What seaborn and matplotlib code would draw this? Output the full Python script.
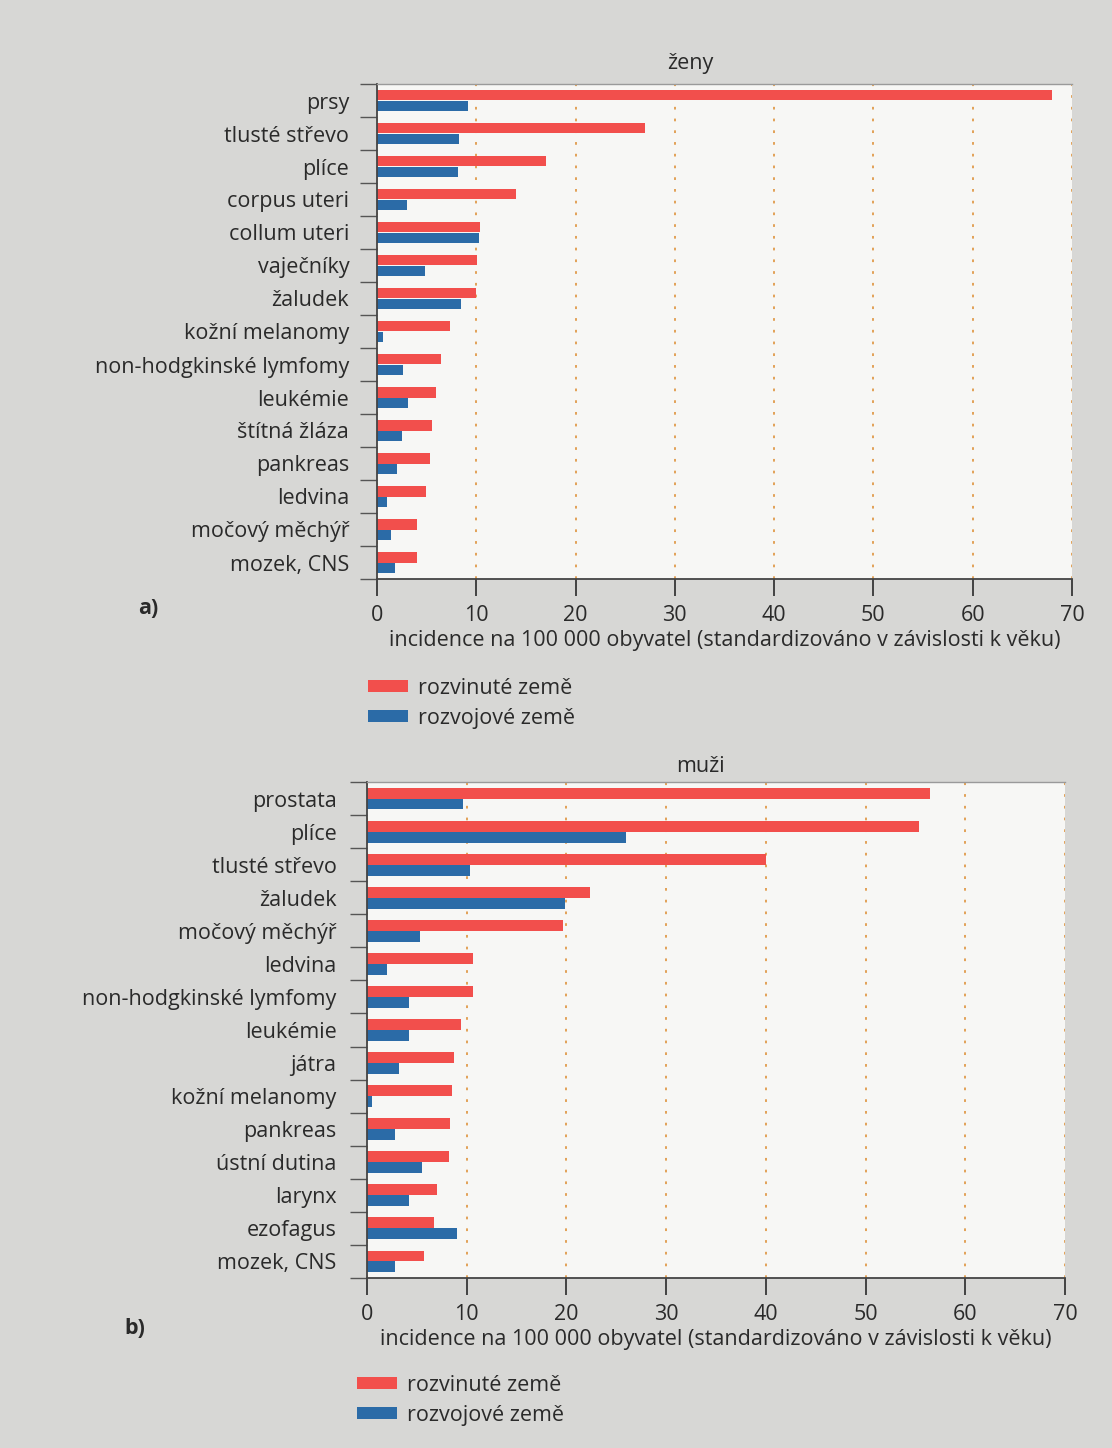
import matplotlib
matplotlib.use("Agg")
import matplotlib.pyplot as plt
import seaborn as sns
import pandas as pd
import numpy as np

# ---------------- data ----------------
series_names = ["rozvinuté země", "rozvojové země"]

zeny_categories = ["prsy", "tlusté střevo", "plíce", "corpus uteri", "collum uteri",
                   "vaječníky", "žaludek", "kožní melanomy", "non-hodgkinské lymfomy",
                   "leukémie", "štítná žláza", "pankreas", "ledvina", "močový měchýř",
                   "mozek, CNS"]
zeny_developed = [68.0, 27.0, 17.0, 14.0, 10.4, 10.1, 10.0, 7.4, 6.4, 5.9, 5.5, 5.3, 4.9, 4.0, 4.0]
zeny_developing = [9.2, 8.3, 8.2, 3.0, 10.3, 4.8, 8.5, 0.6, 2.6, 3.1, 2.5, 2.0, 1.0, 1.4, 1.8]

muzi_categories = ["prostata", "plíce", "tlusté střevo", "žaludek", "močový měchýř",
                   "ledvina", "non-hodgkinské lymfomy", "leukémie", "játra",
                   "kožní melanomy", "pankreas", "ústní dutina", "larynx", "ezofagus",
                   "mozek, CNS"]
muzi_developed = [56.5, 55.4, 40.0, 22.4, 19.7, 10.6, 10.6, 9.4, 8.7, 8.5, 8.3, 8.2, 7.0, 6.7, 5.7]
muzi_developing = [9.6, 26.0, 10.3, 19.9, 5.3, 2.0, 4.2, 4.2, 3.2, 0.5, 2.8, 5.5, 4.2, 9.0, 2.8]

x_ticks = [0, 10, 20, 30, 40, 50, 60, 70]
x_label = "incidence na 100 000 obyvatel (standardizováno v závislosti k věku)"
titles = ["ženy", "muži"]
panel_labels = ["a)", "b)"]

# ---------------- style ----------------
RED = "#f24f4c"
BLUE = "#2b6ba7"
PAGE = "#d7d7d5"
PLOT_BG = "#f7f7f5"
TEXT = "#2a2a2a"
GRID = "#e09a4a"
FS = 15.5

sns.set_theme(style="white")
plt.rcParams["font.family"] = ["Open Sans", "DejaVu Sans"]
plt.rcParams["text.color"] = TEXT
plt.rcParams["axes.labelcolor"] = TEXT
plt.rcParams["xtick.color"] = TEXT
plt.rcParams["ytick.color"] = TEXT

W, H = 1112, 1448
fig = plt.figure(figsize=(W / 100, H / 100), dpi=100, facecolor=PAGE)


def panel(rect, cats, dev, devg, title, plabel, title_xy, plabel_xy, legend_xy, ypad):
    left, top, right, bottom = rect
    ax = fig.add_axes([left / W, 1 - bottom / H, (right - left) / W, (bottom - top) / H])
    ax.set_facecolor(PLOT_BG)
    n = len(cats)
    df = pd.DataFrame({
        "kategorie": cats * 2,
        "hodnota": dev + devg,
        "skupina": [series_names[0]] * n + [series_names[1]] * n,
    })
    sns.barplot(data=df, y="kategorie", x="hodnota", hue="skupina", order=cats,
                hue_order=series_names, palette=[RED, BLUE], orient="h",
                width=0.66, saturation=1, ax=ax, linewidth=0)
    ax.set_xlim(0, 70)
    ax.set_ylim(n - 0.5, -0.5)
    ax.set_xticks(x_ticks)
    ax.set_xticklabels([str(t) for t in x_ticks], fontsize=FS)
    ax.tick_params(axis="x", direction="out", length=12, width=1.2, pad=7, bottom=True)
    ax.tick_params(axis="y", which="major", length=0, pad=ypad, labelsize=FS)
    ax.set_yticks(np.arange(-0.5, n, 1.0), minor=True)
    ax.tick_params(axis="y", which="minor", direction="out", length=12, width=1.0,
                   left=True, color="#555555")
    ax.set_ylabel("")
    ax.set_xlabel(x_label, fontsize=FS, va="top")
    ax.xaxis.set_label_coords(0.5, -(51) / (bottom - top))
    ax.grid(axis="x", color=GRID, linestyle=(0, (1.5, 5)), linewidth=1.3)
    ax.grid(axis="y", visible=False)
    ax.set_axisbelow(True)
    for s in ["left", "bottom"]:
        ax.spines[s].set_color("#444444")
        ax.spines[s].set_linewidth(1.3)
    ax.spines["top"].set_color("#9a9a9a")
    ax.spines["top"].set_linewidth(1.0)
    ax.spines["right"].set_visible(False)

    handles, labels = ax.get_legend_handles_labels()
    if ax.get_legend() is not None:
        ax.get_legend().remove()
    fig.legend(handles, labels, loc="upper left",
               bbox_to_anchor=(legend_xy[0] / W, 1 - legend_xy[1] / H),
               frameon=False, fontsize=FS, handlelength=1.85, handleheight=0.48,
               handletextpad=0.45, labelspacing=0.4, borderpad=0, borderaxespad=0)

    fig.text(title_xy[0] / W, 1 - title_xy[1] / H, title, ha="center", va="center",
             fontsize=FS)
    fig.text(plabel_xy[0] / W, 1 - plabel_xy[1] / H, plabel, ha="center", va="center",
             fontsize=FS, fontweight="bold")
    return ax


panel((377, 84, 1072, 579), zeny_categories, zeny_developed, zeny_developing,
      titles[0], panel_labels[0], (690, 63), (148, 609), (368, 678), 20)
panel((367, 782, 1065, 1278), muzi_categories, muzi_developed, muzi_developing,
      titles[1], panel_labels[1], (700, 766), (135, 1328), (357, 1375), 22)

fig.savefig("out.png", dpi=100, facecolor=PAGE)
